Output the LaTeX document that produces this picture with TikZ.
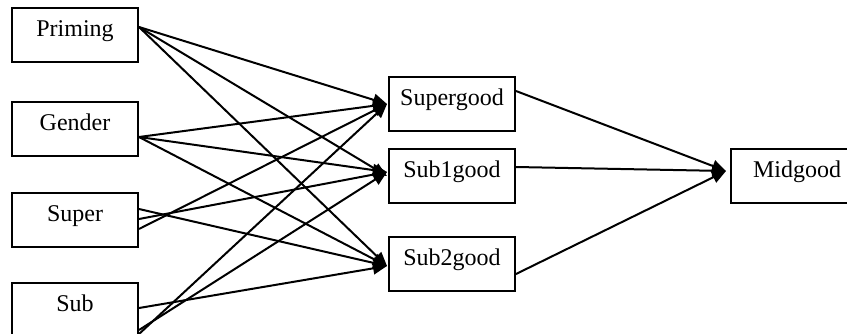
\documentclass[tikz,border=0pt]{standalone}
\usepackage{fontspec}
\setmainfont{Liberation Serif}
\usepackage{tikz}
\usetikzlibrary{arrows.meta,positioning}

\begin{document}
\begin{tikzpicture}[x=0.5pt,y=-0.5pt,
    box/.style={draw,line width=1pt,inner sep=0pt,anchor=north,
                minimum width=63pt,text height=14pt,text depth=13pt,
                font=\fontsize{12}{14}\selectfont},
    link/.style={line width=1pt,-{Triangle[length=7pt,width=6pt]}}]

  \useasboundingbox (0,0) rectangle (847,333);

  % inputs
  \node [box] (Priming) at (75,7)   {Priming};
  \node [box] (Gender)  at (75,101) {Gender};
  \node [box] (Super)   at (75,192) {Super};
  \node [box] (Sub)     at (75,282) {Sub};

  % middle layer
  \node [box] (SuperGood)  at (452,76)  {Supergood};
  \node [box] (SubOneGood) at (452,148) {Sub1good};
  \node [box] (SubTwoGood) at (452,236) {Sub2good};

  % output
  \node [box,minimum width=66pt] (MidGood) at (797,148) {Midgood};

  \draw [link] ([yshift=4pt]Priming.east) -- ([xshift=-0.5pt]SuperGood.west);
  \draw [link] ([yshift=4pt]Priming.east) -- ([xshift=-0.5pt]SubOneGood.west);
  \draw [link] ([yshift=4pt]Priming.east) -- ([xshift=-0.5pt,yshift=-1pt]SubTwoGood.west);

  \draw [link] ([yshift=-4pt]Gender.east) -- ([xshift=-0.5pt]SuperGood.west);
  \draw [link] ([yshift=-4pt]Gender.east) -- ([xshift=-0.5pt,yshift=2pt]SubOneGood.west);
  \draw [link] ([yshift=-4pt]Gender.east) -- ([xshift=-0.5pt,yshift=-1pt]SubTwoGood.west);

  \draw [link] ([yshift=5.5pt]Super.east) -- ([xshift=-0.5pt,yshift=-1pt]SubTwoGood.west);
  \draw [link] ([yshift=0.5pt]Super.east) -- ([xshift=-0.5pt,yshift=2pt]SubOneGood.west);
  \draw [link] ([yshift=-4.5pt]Super.east) -- ([xshift=-0.5pt]SuperGood.west);

  \draw [link] ([yshift=1pt]Sub.east) -- ([xshift=-0.5pt,yshift=-1pt]SubTwoGood.west);
  \draw [link] ([yshift=-10pt]Sub.east) -- ([xshift=-0.5pt,yshift=2pt]SubOneGood.west);
  \draw [link] ([yshift=-12pt]Sub.east) -- ([xshift=-0.5pt]SuperGood.west);

  \draw [link] ([yshift=6.5pt]SuperGood.east) -- ([xshift=-2pt,yshift=2.5pt]MidGood.west);
  \draw [link] ([yshift=4.5pt]SubOneGood.east) -- ([xshift=-2pt,yshift=2.5pt]MidGood.west);
  \draw [link] ([yshift=-5pt]SubTwoGood.east) -- ([xshift=-2pt,yshift=2.5pt]MidGood.west);

\end{tikzpicture}
\end{document}
